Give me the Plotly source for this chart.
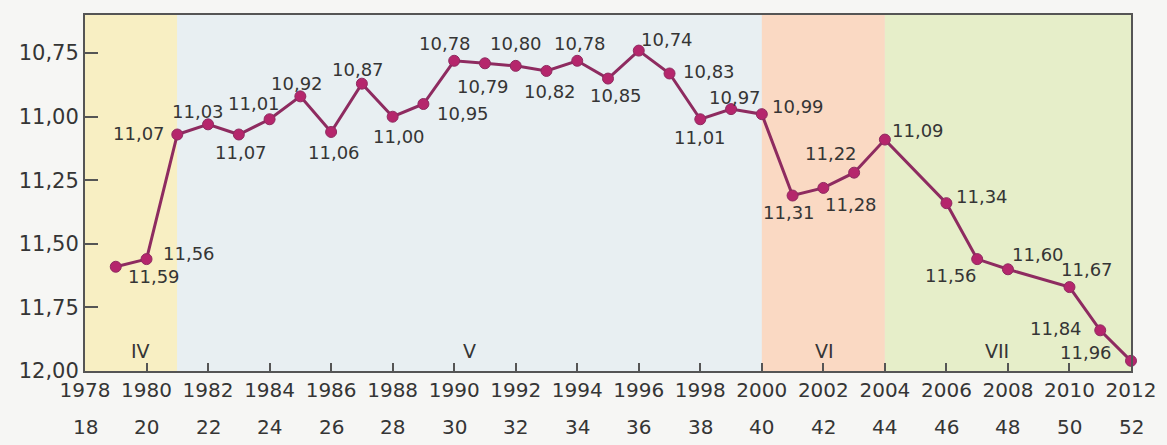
import plotly.graph_objects as go

# Season results by year (seconds) and athlete age
years = [1979, 1980, 1981, 1982, 1983, 1984, 1985, 1986, 1987, 1988, 1989,
         1990, 1991, 1992, 1993, 1994, 1995, 1996, 1997, 1998, 1999, 2000,
         2001, 2002, 2003, 2004, 2006, 2007, 2008, 2010, 2011, 2012]
times = [11.59, 11.56, 11.07, 11.03, 11.07, 11.01, 10.92, 11.06, 10.87, 11.00, 10.95,
         10.78, 10.79, 10.80, 10.82, 10.78, 10.85, 10.74, 10.83, 11.01, 10.97, 10.99,
         11.31, 11.28, 11.22, 11.09, 11.34, 11.56, 11.60, 11.67, 11.84, 11.96]

tick_years = list(range(1978, 2013, 2))
tick_ages = list(range(18, 53, 2))

y_ticks = [10.75, 11.00, 11.25, 11.50, 11.75, 12.00]

# Career periods
period_names = ["IV", "V", "VI", "VII"]
period_starts = [1978, 1981, 2000, 2004]
period_ends = [1981, 2000, 2004, 2012]

# Styling
period_colors = ["#f8efc3", "#e8eff2", "#fad9c3", "#e6eec9"]
period_label_x = [1979.8, 1990.5, 2002.05, 2007.66]
# label offsets (px) relative to each point: (dx, dy) with dy positive downward
label_offsets = [(38, 10), (42, -6), (-38, -1), (-10, -13), (2, 18), (-16, -16), (-3, -13),
                 (3, 21), (-4, -14), (6, 20), (40, 9), (-9, -17), (-2, 23), (0, -22),
                 (4, 21), (3, -17), (8, 17), (28, -11), (39, -2), (0, 18), (4, -12),
                 (36, -8), (-4, 17), (28, 17), (-23, -19), (33, -9), (36, -7), (-26, 16),
                 (30, -15), (18, -18), (-44, -2), (-45, -8)]

FONT = "DejaVu Sans"
TEXT = "#353535"
LINE = "#8e2b60"
MARK = "#b5266c"

fig = go.Figure()

fig.add_trace(go.Scatter(
    x=years, y=times, mode="lines+markers",
    line=dict(color=LINE, width=3),
    marker=dict(size=11, color=MARK, line=dict(color=LINE, width=1)),
    cliponaxis=False, hoverinfo="x+y", showlegend=False,
))

shapes = []
for x0, x1, c in zip(period_starts, period_ends, period_colors):
    shapes.append(dict(type="rect", xref="x", yref="paper", x0=x0, x1=x1, y0=0, y1=1,
                       fillcolor=c, line=dict(width=0), layer="below"))

annotations = []
for yr, t, (dx, dy) in zip(years, times, label_offsets):
    annotations.append(dict(
        x=yr, y=t, xref="x", yref="y", text=f"{t:.2f}".replace(".", ","),
        showarrow=False, xshift=dx, yshift=-dy,
        font=dict(family=FONT, size=18, color=TEXT),
    ))

for name, lx in zip(period_names, period_label_x):
    annotations.append(dict(
        x=lx, y=11.92, xref="x", yref="y", text=name, showarrow=False,
        font=dict(family=FONT, size=19, color=TEXT),
    ))

for yr, age in zip(tick_years, tick_ages):
    annotations.append(dict(
        x=yr, y=0, xref="x", yref="paper", text=str(age), showarrow=False,
        yanchor="middle", yshift=-56,
        font=dict(family=FONT, size=20, color=TEXT),
    ))

fig.update_layout(
    width=1167, height=445,
    margin=dict(l=85, r=36, t=15, b=74),
    paper_bgcolor="#f6f6f4", plot_bgcolor="#e8eff2",
    separators=", ",
    shapes=shapes, annotations=annotations,
    font=dict(family=FONT, color=TEXT),
)

fig.update_xaxes(
    range=[1978, 2012], tickvals=tick_years, ticktext=[str(y) for y in tick_years],
    ticks="inside", ticklen=8, tickwidth=2, tickcolor="#555",
    showline=True, linecolor="#555", linewidth=2, mirror=True,
    showgrid=False, zeroline=False,
    tickfont=dict(family=FONT, size=20, color=TEXT),
)
fig.update_yaxes(
    range=[12.0, 10.6], tickvals=y_ticks, tickformat=".2f",
    ticks="inside", ticklen=13, tickwidth=2, tickcolor="#555",
    showline=True, linecolor="#555", linewidth=2, mirror=True,
    showgrid=False, zeroline=False,
    tickfont=dict(family=FONT, size=21, color=TEXT),
)

fig.write_html("out.html")
